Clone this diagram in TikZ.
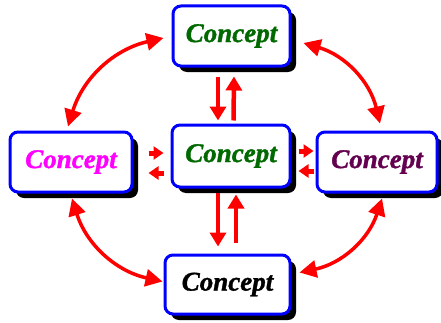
\documentclass[tikz,border=0pt]{standalone}
\usepackage{fontspec}
\setmainfont{Liberation Serif}
\newfontfamily\cfont[FakeBold=1.3]{Liberation Serif Bold Italic}
\usetikzlibrary{arrows.meta,calc,shadows}
\definecolor{cgreen}{RGB}{0,105,0}
\definecolor{cmag}{RGB}{255,0,255}
\definecolor{cpurp}{RGB}{100,0,80}
\definecolor{cblue}{RGB}{0,0,255}
\definecolor{cred}{RGB}{255,0,0}
\tikzset{
  cbox/.style={draw=cblue, line width=3pt, fill=white, rounded corners=8pt,
    drop shadow={shadow xshift=6pt, shadow yshift=-6pt, fill=black, opacity=1},
    font=\cfont\fontsize{27}{27}\selectfont, inner sep=0pt},
  arc/.style={draw=cred, line width=3.5pt, {Triangle[length=17pt,width=17pt]}-{Triangle[length=17pt,width=17pt]}},
  varr/.style={draw=cred, line width=4.5pt, -{Triangle[length=14pt,width=16pt]}},
  harr/.style={draw=cred, line width=5pt, -{Triangle[length=10pt,width=13pt]}},
}
\begin{document}
\begin{tikzpicture}[x=1pt,y=1pt]
\useasboundingbox (0,0) rectangle (441,322);
\node[cbox, minimum width=117pt, minimum height=60pt, text=cgreen] (top) at (231.5,286) {Concept};
\node[cbox, minimum width=118pt, minimum height=62pt, text=cgreen] (mid) at (231,166) {Concept};
\node[cbox, minimum width=122pt, minimum height=60pt, text=cmag] (lft) at (71,160) {Concept};
\node[cbox, minimum width=120pt, minimum height=60pt, text=cpurp] (rgt) at (377,160) {Concept};
\node[cbox, minimum width=125pt, minimum height=59pt, text=black] (bot) at (227.5,37.5) {Concept};
% vertical arrows
\draw[varr] ($(top.south)+(-13.5,-9)$) -- ($(mid.north)+(-13,3)$);
\draw[varr] ($(mid.north)+(2.5,3)$) -- ($(top.south)+(2.5,-9)$);
\draw[varr] ($(mid.south)+(-13,-4)$) -- ($(bot.north)+(-9.5,7)$);
\draw[varr] ($(bot.north)+(8.5,11)$) -- ($(mid.south)+(5,-6)$);
% horizontal arrows
\draw[harr] ($(lft.east)+(15,9)$) -- ($(mid.west)+(-7,3)$);
\draw[harr] ($(mid.west)+(-7,-17)$) -- ($(lft.east)+(15,-11)$);
\draw[harr] ($(mid.east)+(7,5)$) -- ($(rgt.west)+(-2,11)$);
\draw[harr] ($(rgt.west)+(-2,-9)$) -- ($(mid.east)+(7,-15)$);
% curved arrows
\draw[arc] ($(lft.north)+(-3,4)$) to[bend left=30] ($(top.west)+(-8,-2)$);
\draw[arc] ($(top.east)+(12,-7)$) to[bend left=30] ($(rgt.north)+(3,7)$);
\draw[arc] ($(lft.south)+(1,-5)$) to[bend right=30] ($(bot.west)+(-1,3)$);
\draw[arc] ($(rgt.south)+(5,-5)$) to[bend left=30] ($(bot.east)+(8,12)$);
\end{tikzpicture}
\end{document}
